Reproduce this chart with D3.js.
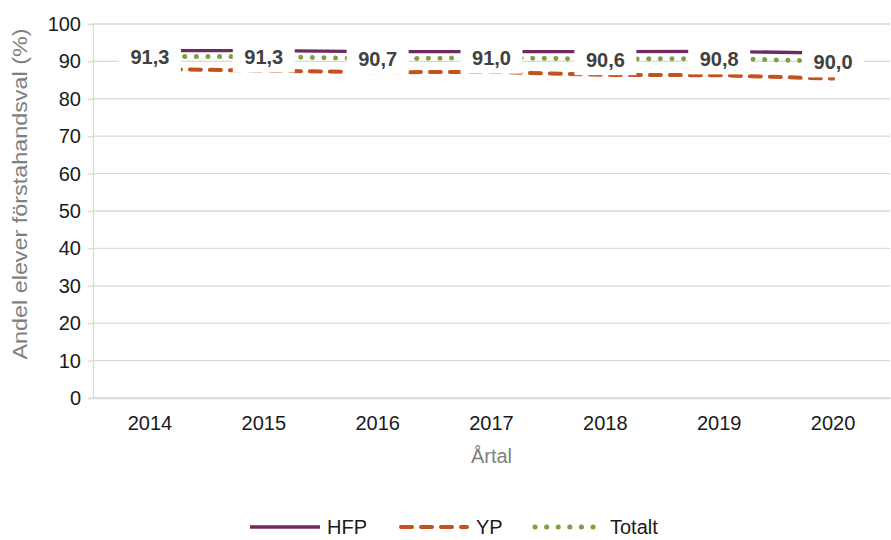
<!DOCTYPE html>
<html>
<head>
<meta charset="utf-8">
<script src="https://cdn.jsdelivr.net/npm/d3@7"></script>
<style>
  body { margin: 0; background: #fff; }
  text { font-family: "Liberation Sans", Arial, sans-serif; }
</style>
</head>
<body>
<div id="chart"></div>
<script>
var years = ["2014", "2015", "2016", "2017", "2018", "2019", "2020"];
var hfp = [92.9, 92.9, 92.6, 92.6, 92.6, 92.7, 92.2];
var yp = [88.0, 87.5, 87.1, 87.2, 86.4, 86.3, 85.4];
var totalt = [91.3, 91.3, 90.7, 91.0, 90.6, 90.8, 90.0];
var yTicks = [0, 10, 20, 30, 40, 50, 60, 70, 80, 90, 100];

var W = 891, H = 540;
var margin = {top: 24, right: 1, bottom: 142, left: 93};
var width = W - margin.left - margin.right;
var height = H - margin.top - margin.bottom;

var svg = d3.select("#chart").append("svg")
  .attr("width", W)
  .attr("height", H);

var g = svg.append("g")
  .attr("transform", "translate(" + margin.left + "," + margin.top + ")");

var x = d3.scaleBand().domain(years).range([0, width]);
var y = d3.scaleLinear().domain([0, 100]).range([height, 0]);

// gridlines
g.append("g")
  .selectAll("line")
  .data(yTicks)
  .join("line")
  .attr("x1", 0)
  .attr("x2", width)
  .attr("y1", d => y(d))
  .attr("y2", d => y(d))
  .attr("stroke", "#d9d9d9")
  .attr("stroke-width", 1.3);

// y axis
var yAxis = g.append("g")
  .call(d3.axisLeft(y).tickValues(yTicks).tickSize(5).tickPadding(7));
yAxis.select(".domain").attr("stroke", "#d9d9d9").attr("stroke-width", 1.3);
yAxis.selectAll(".tick line").attr("stroke", "#d9d9d9").attr("stroke-width", 1.3);
yAxis.selectAll(".tick text")
  .attr("font-size", "20px")
  .attr("fill", "#1a1a1a");

// x axis
var xAxis = g.append("g")
  .attr("transform", "translate(0," + height + ")")
  .call(d3.axisBottom(x).tickSize(0).tickPadding(18));
xAxis.select(".domain").attr("stroke", "#d9d9d9").attr("stroke-width", 1.3);
xAxis.selectAll(".tick text")
  .attr("font-size", "20px")
  .attr("fill", "#1a1a1a");

// axis titles
svg.append("text")
  .attr("transform", "translate(27,194) rotate(-90) scale(1.14,1)")
  .attr("text-anchor", "middle")
  .attr("font-size", "20.5px")
  .attr("fill", "#7f7f7f")
  .text("Andel elever förstahandsval (%)");

svg.append("text")
  .attr("x", margin.left + width / 2)
  .attr("y", 463)
  .attr("text-anchor", "middle")
  .attr("font-size", "20px")
  .attr("fill", "#7f7f7f")
  .text("Årtal");

// series
var series = [
  {name: "HFP", values: hfp, color: "#702963", width: 3.3, dash: null, cap: "butt"},
  {name: "YP", values: yp, color: "#c4511e", width: 4, dash: "11 9", cap: "round"},
  {name: "Totalt", values: totalt, color: "#7ba23f", width: 5, dash: "0.1 11.5", cap: "round"}
];

var line = d3.line()
  .x((d, i) => x(years[i]) + x.bandwidth() / 2)
  .y(d => y(d));

g.selectAll(".series")
  .data(series)
  .join("path")
  .attr("class", "series")
  .attr("fill", "none")
  .attr("stroke", d => d.color)
  .attr("stroke-width", d => d.width)
  .attr("stroke-dasharray", d => d.dash)
  .attr("stroke-linecap", d => d.cap)
  .attr("d", d => line(d.values));

// data labels (Totalt) with white box
var lab = g.selectAll(".lab")
  .data(totalt)
  .join("g")
  .attr("class", "lab")
  .attr("transform", (d, i) => "translate(" + (x(years[i]) + x.bandwidth() / 2) + "," + y(d) + ")");

lab.append("rect")
  .attr("x", -31)
  .attr("y", -15)
  .attr("width", 62)
  .attr("height", 31)
  .attr("fill", "#fff");

lab.append("text")
  .attr("text-anchor", "middle")
  .attr("dy", "0.37em")
  .attr("font-size", "20px")
  .attr("font-weight", "bold")
  .attr("fill", "#404040")
  .text(d => d3.format(".1f")(d).replace(".", ","));

// legend
var legendX = [250, 399, 533];
var legend = svg.append("g")
  .selectAll("g")
  .data(series)
  .join("g")
  .attr("transform", (d, i) => "translate(" + legendX[i] + ",527)");

legend.append("line")
  .attr("x1", (d, i) => i == 0 ? 0 : 2)
  .attr("x2", (d, i) => i == 0 ? 70 : 68)
  .attr("stroke", d => d.color)
  .attr("stroke-width", d => d.width)
  .attr("stroke-dasharray", d => d.dash)
  .attr("stroke-linecap", d => d.cap);

legend.append("text")
  .attr("x", 77)
  .attr("dy", "0.37em")
  .attr("font-size", "20px")
  .attr("fill", "#1a1a1a")
  .text(d => d.name);
</script>
</body>
</html>
